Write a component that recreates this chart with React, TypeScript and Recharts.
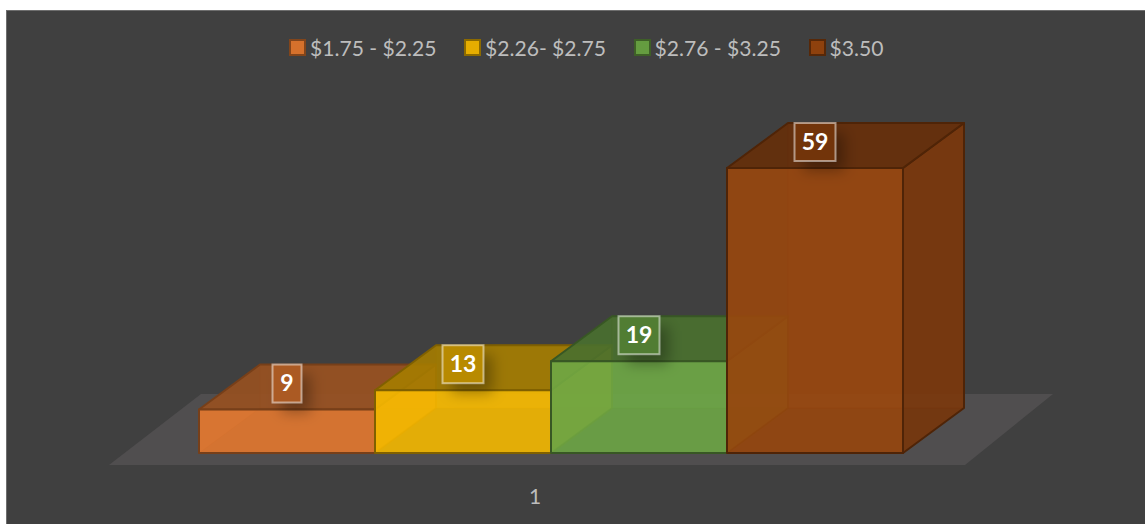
import React from 'react';
import { BarChart, Bar, XAxis, YAxis, Legend, LabelList, Customized } from 'recharts';

// Price bands and the count for each, all in the single "1" category
const categories = ['1'];
const seriesNames = ['$1.75 - $2.25', '$2.26- $2.75', '$2.76 - $3.25', '$3.50'];
const seriesKeys = ['band1', 'band2', 'band3', 'band4'];
const seriesValues = [9, 13, 19, 59];
const seriesColors = ['#ED7D31', '#FFC000', '#70AD47', '#9E480E'];

const data = categories.map((name) => {
  const row: Record<string, string | number> = { name };
  seriesKeys.forEach((key, i) => {
    row[key] = seriesValues[i];
  });
  return row;
});

const WIDTH = 1145;
const HEIGHT = 524;
const DEPTH_X = 61;
const DEPTH_Y = 45;
const FONT = 'Lato, Carlito, sans-serif';

// Multiply an rgb hex colour to get the darker side of a box
function shade(hex: string, k: number) {
  const n = parseInt(hex.slice(1), 16);
  const r = Math.round(((n >> 16) & 255) * k);
  const g = Math.round(((n >> 8) & 255) * k);
  const b = Math.round((n & 255) * k);
  return `rgb(${r},${g},${b})`;
}

function poly(pts: number[][]) {
  return pts.map((p) => p.join(',')).join(' ');
}

// Translucent cuboid: far faces first so they show faintly through the near ones
function BoxShape(props: any) {
  const { x, y, width, height, color } = props;
  const l = x;
  const r = x + width;
  const t = y;
  const b = y + height;
  const dx = DEPTH_X;
  const dy = DEPTH_Y;
  const edge = shade(color, 0.5);
  const face = { fillOpacity: 0.5, stroke: edge, strokeOpacity: 0.25, strokeWidth: 1 };
  const near = { fillOpacity: 0.8, stroke: edge, strokeWidth: 2, strokeLinejoin: 'round' as const };
  return (
    <g>
      <polygon {...face} fill={shade(color, 0.6)} points={poly([[l, b], [r, b], [r + dx, b - dy], [l + dx, b - dy]])} />
      <polygon {...face} fill={shade(color, 0.85)} points={poly([[l + dx, t - dy], [r + dx, t - dy], [r + dx, b - dy], [l + dx, b - dy]])} />
      <polygon {...face} fill={shade(color, 0.77)} points={poly([[l, t], [l + dx, t - dy], [l + dx, b - dy], [l, b]])} />
      <polygon {...near} fill={shade(color, 0.77)} points={poly([[r, t], [r + dx, t - dy], [r + dx, b - dy], [r, b]])} />
      <polygon {...near} fill={shade(color, 0.63)} points={poly([[l, t], [r, t], [r + dx, t - dy], [l + dx, t - dy]])} />
      <polygon {...near} fill={color} points={poly([[l, t], [r, t], [r, b], [l, b]])} />
    </g>
  );
}

// Boxed value on the top face, with a soft shadow behind it
function ValueBadge(props: any) {
  const { x, y, width, value, color } = props;
  const boxW = String(value).length > 1 ? 41 : 29;
  const boxH = 38;
  const cx = x + width / 2;
  const cy = y - 26;
  return (
    <g>
      <rect
        x={cx - boxW / 2 + 9}
        y={cy - boxH / 2 + 10}
        width={boxW}
        height={boxH}
        fill="#000"
        fillOpacity={0.3}
        filter="url(#badgeShadow)"
      />
      <rect
        x={cx - boxW / 2}
        y={cy - boxH / 2}
        width={boxW}
        height={boxH}
        fill={shade(color, 0.72)}
        stroke="#fff"
        strokeOpacity={0.5}
        strokeWidth={2}
      />
      <text
        x={cx}
        y={cy + 2}
        textAnchor="middle"
        dominantBaseline="middle"
        fill="#fff"
        fontFamily={FONT}
        fontWeight={700}
        fontSize={23}
      >
        {value}
      </text>
    </g>
  );
}

// Slanted floor under the boxes
function Floor() {
  return (
    <g>
      <defs>
        <filter id="badgeShadow" x="-60%" y="-60%" width="220%" height="220%">
          <feGaussianBlur stdDeviation="7" />
        </filter>
      </defs>
      <polygon fill="#504E4F" points="109,465 965,465 1053,394 201,394" />
    </g>
  );
}

function LegendRow({ payload }: any) {
  return (
    <div style={{ display: 'flex', alignItems: 'center', gap: 27.5, fontFamily: FONT, fontSize: 21.1, color: '#BDBDBD' }}>
      {(payload || []).map((item: any) => (
        <div key={item.value} style={{ display: 'flex', alignItems: 'center', gap: 4 }}>
          <span
            style={{
              display: 'inline-block',
              width: 13,
              height: 13,
              background: shade(item.color, 0.9),
              border: `2px solid ${shade(item.color, 0.55)}`,
            }}
          />
          <span>{item.value}</span>
        </div>
      ))}
    </div>
  );
}

export default function App() {
  return (
    <div style={{ position: 'absolute', left: 0, top: 0, width: WIDTH, height: HEIGHT, background: '#fff', overflow: 'hidden' }}>
      <div
        style={{
          position: 'absolute',
          left: 6,
          top: 10,
          width: WIDTH,
          height: HEIGHT,
          background: '#404040',
          border: '1px solid #6E6E6E',
        }}
      />
      <BarChart
        width={WIDTH}
        height={HEIGHT}
        data={data}
        margin={{ top: 143, right: 242, bottom: 31, left: 199 }}
        barCategoryGap={0}
        barGap={0}
        style={{ position: 'absolute', left: 0, top: 0 }}
      >
        <Customized component={Floor} />
        <XAxis
          dataKey="name"
          height={40}
          axisLine={false}
          tickLine={false}
          tick={{ fill: '#BDBDBD', fontFamily: FONT, fontSize: 21, dx: -16, dy: 28 }}
        />
        <YAxis hide domain={[0, 59]} />
        <Legend
          verticalAlign="top"
          align="left"
          wrapperStyle={{ left: 289, top: 35, width: 'auto' }}
          content={<LegendRow />}
        />
        {seriesKeys.map((key, i) => (
          <Bar
            key={key}
            dataKey={key}
            name={seriesNames[i]}
            fill={seriesColors[i]}
            isAnimationActive={false}
            shape={(p: any) => <BoxShape {...p} color={seriesColors[i]} />}
          >
            <LabelList
              dataKey={key}
              content={(p: any) => <ValueBadge {...p} color={seriesColors[i]} />}
            />
          </Bar>
        ))}
      </BarChart>
    </div>
  );
}
